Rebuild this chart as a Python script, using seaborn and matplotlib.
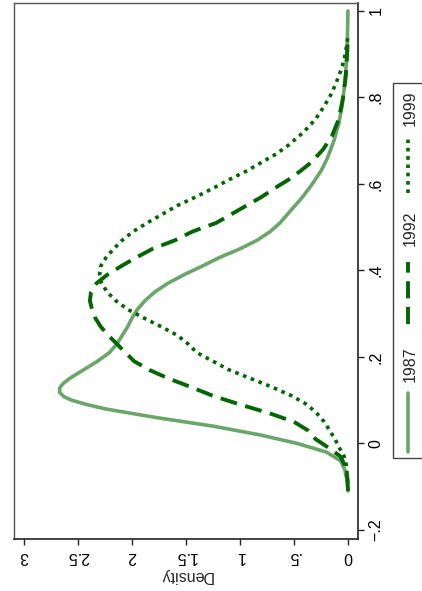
import matplotlib
matplotlib.use("Agg")
import matplotlib.pyplot as plt
import seaborn as sns
import pandas as pd
from matplotlib.lines import Line2D
from matplotlib.patches import Rectangle

# ---------------- data ----------------
years = ["1987", "1992", "1999"]

v1987 = [-0.11, -0.09, -0.06, -0.04, -0.02, 0.0, 0.02, 0.04, 0.06, 0.08, 0.09, 0.10,
         0.108, 0.118, 0.128, 0.138, 0.15, 0.17, 0.19, 0.21, 0.23, 0.25, 0.27, 0.29,
         0.31, 0.33, 0.35, 0.37, 0.39, 0.41, 0.43, 0.45, 0.47, 0.49, 0.51, 0.53, 0.55,
         0.57, 0.60, 0.63, 0.66, 0.70, 0.74, 0.78, 0.82, 0.86, 0.90, 0.95, 1.00]
d1987 = [0.0, 0.005, 0.03, 0.07, 0.20, 0.47, 0.82, 1.25, 1.78, 2.25, 2.42, 2.56,
         2.63, 2.67, 2.67, 2.64, 2.58, 2.45, 2.32, 2.21, 2.14, 2.09, 2.04, 2.00,
         1.95, 1.88, 1.79, 1.67, 1.52, 1.35, 1.19, 1.00, 0.84, 0.72, 0.63, 0.56, 0.49,
         0.42, 0.33, 0.25, 0.19, 0.13, 0.085, 0.055, 0.035, 0.02, 0.01, 0.004, 0.0]

v1992 = [-0.11, -0.08, -0.05, -0.03, -0.01, 0.01, 0.03, 0.05, 0.07, 0.09, 0.11, 0.13,
         0.15, 0.17, 0.19, 0.21, 0.23, 0.25, 0.27, 0.29, 0.31, 0.33, 0.35, 0.37, 0.39,
         0.41, 0.43, 0.45, 0.47, 0.49, 0.51, 0.53, 0.55, 0.57, 0.59, 0.61, 0.63, 0.65,
         0.68, 0.71, 0.75, 0.80, 0.85, 0.90, 0.94]
d1992 = [0.0, 0.005, 0.03, 0.07, 0.18, 0.30, 0.37, 0.50, 0.73, 1.00, 1.25, 1.45,
         1.66, 1.84, 1.98, 2.06, 2.14, 2.22, 2.29, 2.34, 2.37, 2.39, 2.38, 2.33, 2.23,
         2.10, 1.96, 1.81, 1.60, 1.44, 1.22, 1.08, 0.94, 0.80, 0.68, 0.55, 0.44, 0.34,
         0.23, 0.15, 0.085, 0.045, 0.02, 0.008, 0.0]

v1999 = [-0.11, -0.08, -0.05, -0.03, -0.01, 0.01, 0.03, 0.05, 0.07, 0.09, 0.11, 0.13,
         0.15, 0.17, 0.19, 0.21, 0.23, 0.25, 0.27, 0.29, 0.31, 0.33, 0.35, 0.37, 0.39,
         0.41, 0.43, 0.45, 0.47, 0.49, 0.51, 0.53, 0.55, 0.57, 0.59, 0.61, 0.63, 0.65,
         0.67, 0.69, 0.72, 0.75, 0.78, 0.81, 0.84, 0.87, 0.90, 0.94]
d1999 = [0.0, 0.005, 0.015, 0.035, 0.08, 0.12, 0.17, 0.22, 0.29, 0.38, 0.52, 0.70,
         0.90, 1.10, 1.25, 1.40, 1.48, 1.58, 1.73, 1.89, 2.04, 2.15, 2.23, 2.28, 2.30,
         2.29, 2.24, 2.17, 2.09, 1.99, 1.86, 1.72, 1.58, 1.41, 1.25, 1.10, 0.94, 0.80,
         0.66, 0.55, 0.41, 0.30, 0.22, 0.15, 0.10, 0.055, 0.025, 0.0]

density_ticks = [0, 0.5, 1, 1.5, 2, 2.5, 3]
density_labels = ["0", ".5", "1", "1.5", "2", "2.5", "3"]
value_ticks = [-0.2, 0, 0.2, 0.4, 0.6, 0.8, 1]
value_labels = ["\u2212.2", "0", ".2", ".4", ".6", ".8", "1"]
axis_title = "Density"

# ---------------- styling ----------------
sns.set_theme(style="white")
plt.rcParams["font.family"] = ["Liberation Sans", "DejaVu Sans"]
FS = 11.5

W, H = 422, 591
fig = plt.figure(figsize=(W / 100, H / 100), dpi=100)
fig.patch.set_facecolor("white")

def fx(px):
    return px / W

def fy(py):
    return 1 - py / H

ax_l, ax_r, ax_t, ax_b = 14, 358, 3, 539
ax = fig.add_axes([fx(ax_l), fy(ax_b), (ax_r - ax_l) / W, (ax_b - ax_t) / H])

light = "#6aa66a"
dark = "#036603"
styles = {
    "1987": dict(color=light, lw=2.6, ls="-"),
    "1992": dict(color=dark, lw=2.8, ls=(0, (4.4, 2.2))),
    "1999": dict(color=dark, lw=2.6, ls=(0, (1.0, 1.3))),
}
series = {"1987": (v1987, d1987), "1992": (v1992, d1992), "1999": (v1999, d1999)}

for yr in years:
    v, d = series[yr]
    df = pd.DataFrame({"density": d, "value": v})
    st = styles[yr]
    sns.lineplot(data=df, x="density", y="value", sort=False, estimator=None,
                 color=st["color"], linewidth=st["lw"], linestyle=st["ls"], ax=ax,
                 solid_joinstyle="round")

ax.set_xlim(3.093, -0.093)
ax.set_ylim(-0.221, 1.0185)

ax.set_xticks(density_ticks)
ax.set_xticklabels(density_labels, rotation=180, fontsize=FS)
ax.set_yticks(value_ticks)
ax.yaxis.tick_right()
ax.set_yticklabels(value_labels, rotation=90, fontsize=FS, va="center")
ax.tick_params(axis="both", direction="out", length=4.5, width=1, color="#222222",
               pad=3, labelcolor="black")
ax.tick_params(axis="y", left=False, right=True)
ax.tick_params(axis="x", bottom=True, top=False)

ax.set_xlabel(axis_title, rotation=180, fontsize=FS, va="center")
ax.xaxis.set_label_coords(0.5, -(575 - ax_b) / (ax_b - ax_t))
ax.set_ylabel("")

for s in ["left", "top"]:
    ax.spines[s].set_color("#555555")
    ax.spines[s].set_linewidth(1.0)
for s in ["right", "bottom"]:
    ax.spines[s].set_color("#222222")
    ax.spines[s].set_linewidth(1.2)
ax.grid(False)

# ---------------- legend (rotated, drawn by hand) ----------------
box = Rectangle((fx(393), fy(458)), fx(440) - fx(393), fy(83) - fy(458),
                transform=fig.transFigure, facecolor="white", edgecolor="#444444",
                linewidth=1.0, clip_on=False)
fig.add_artist(box)

key_spans = {"1999": (137, 193), "1992": (262, 324), "1987": (393, 452)}
text_centers = {"1999": 108, "1992": 228, "1987": 364}
for yr in years:
    st = styles[yr]
    y0, y1 = key_spans[yr]
    fig.add_artist(Line2D([fx(408), fx(408)], [fy(y1), fy(y0)], transform=fig.transFigure,
                          color=st["color"], linewidth=st["lw"], linestyle=st["ls"]))
    fig.text(fx(410), fy(text_centers[yr]), yr, rotation=90, ha="center", va="center",
             fontsize=FS)

fig.savefig("out.png", dpi=100, facecolor="white")
